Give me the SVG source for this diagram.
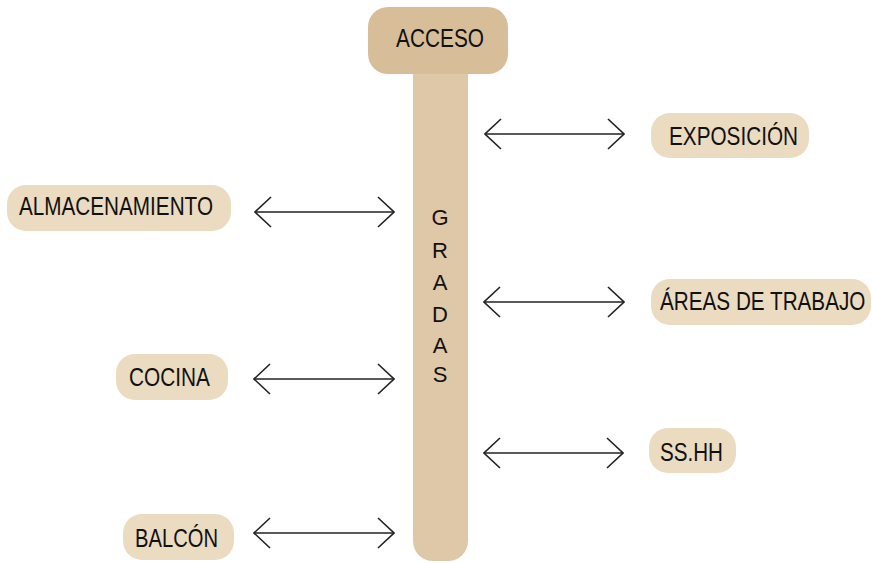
<svg xmlns="http://www.w3.org/2000/svg" width="872" height="563" viewBox="0 0 872 563">
<style>
.pill{fill:#ebdbc0}
.lbl{font-family:"Liberation Sans",Arial,sans-serif;font-size:25px;fill:#111}
.ln{stroke:#222;stroke-width:1.6;fill:none}
</style>
<defs>
<marker id="ah" viewBox="-17 -16 18 32" markerWidth="18" markerHeight="32" refX="0" refY="0" orient="auto-start-reverse" markerUnits="userSpaceOnUse">
<path d="M-16,-15 L0,0 L-16,15" fill="none" stroke="#222" stroke-width="1.6"/>
</marker>
</defs>
<rect width="872" height="563" fill="#fff"/>
<g id="gradas">
<path d="M413,70 H468 V541 A20,20 0 0 1 448,561 H433 A20,20 0 0 1 413,541 Z" fill="#dfc8a7"/>
<g class="lbl" text-anchor="middle" style="font-size:22px">
<text x="440" y="225">G</text>
<text x="440" y="258">R</text>
<text x="440" y="290">A</text>
<text x="440" y="322">D</text>
<text x="440" y="353">A</text>
<text x="440" y="382">S</text>
</g>
</g>
<g id="acceso">
<rect x="368" y="7" width="140" height="67" rx="20" fill="#d7be98"/>
<text class="lbl" x="396" y="47" textLength="88" lengthAdjust="spacingAndGlyphs">ACCESO</text>
</g>
<g id="almacenamiento">
<rect class="pill" x="7" y="185" width="224" height="46" rx="19"/>
<text class="lbl" x="19" y="215" textLength="194" lengthAdjust="spacingAndGlyphs">ALMACENAMIENTO</text>
</g>
<g id="cocina">
<rect class="pill" x="116" y="354" width="112" height="46" rx="19"/>
<text class="lbl" x="129" y="386" textLength="81" lengthAdjust="spacingAndGlyphs">COCINA</text>
</g>
<g id="balcon">
<rect class="pill" x="123" y="514" width="111" height="46" rx="19"/>
<text class="lbl" x="135" y="547" textLength="83" lengthAdjust="spacingAndGlyphs">BALCÓN</text>
</g>
<g id="exposicion">
<rect class="pill" x="651" y="113" width="158" height="45" rx="19"/>
<text class="lbl" x="669" y="145" textLength="129" lengthAdjust="spacingAndGlyphs">EXPOSICIÓN</text>
</g>
<g id="areas">
<rect class="pill" x="651" y="279" width="220" height="46" rx="19"/>
<text class="lbl" transform="translate(660,310) scale(0.828,1)" x="0" y="0">ÁREAS DE TRABAJO</text>
</g>
<g id="sshh">
<rect class="pill" x="649" y="428" width="87" height="45" rx="19"/>
<text class="lbl" x="660" y="461" textLength="63" lengthAdjust="spacingAndGlyphs">SS.HH</text>
</g>
<g id="connectors">
<line class="ln" x1="255" y1="212" x2="394" y2="212" marker-start="url(#ah)" marker-end="url(#ah)"/>
<line class="ln" x1="254" y1="379" x2="394" y2="379" marker-start="url(#ah)" marker-end="url(#ah)"/>
<line class="ln" x1="254" y1="533" x2="394" y2="533" marker-start="url(#ah)" marker-end="url(#ah)"/>
<line class="ln" x1="485" y1="134" x2="624" y2="134" marker-start="url(#ah)" marker-end="url(#ah)"/>
<line class="ln" x1="484" y1="302" x2="624" y2="302" marker-start="url(#ah)" marker-end="url(#ah)"/>
<line class="ln" x1="484" y1="453" x2="623" y2="453" marker-start="url(#ah)" marker-end="url(#ah)"/>
</g>
</svg>
